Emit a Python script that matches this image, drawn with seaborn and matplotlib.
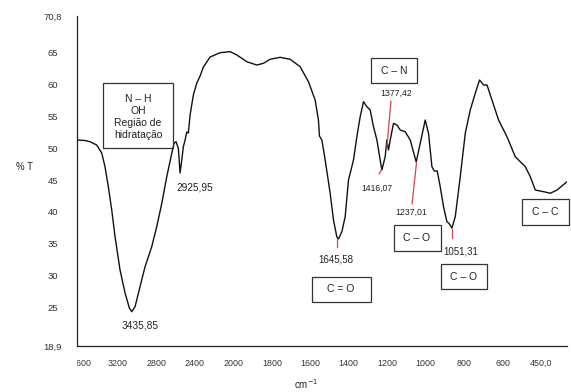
import numpy as np
import pandas as pd
import seaborn as sns
from matplotlib import pyplot as plt
from matplotlib.patches import Rectangle
from matplotlib.lines import Line2D
from matplotlib.transforms import Bbox, TransformedBbox, ScaledTranslation

# x position in axis tick units (0 = "3600" tick, 1 = "3200" tick, ...)
x_pos = [0.000, 0.208, 0.338, 0.512, 0.643, 0.728, 0.814, 0.903, 0.989, 1.119,
         1.249, 1.361, 1.423, 1.509, 1.639, 1.769, 1.943, 2.073, 2.204, 2.334,
         2.464, 2.523, 2.575, 2.635, 2.680, 2.724, 2.765, 2.810, 2.854, 2.895,
         2.940, 3.025, 3.114, 3.200, 3.286, 3.460, 3.720, 3.980, 4.155, 4.415,
         4.675, 4.847, 5.021, 5.281, 5.541, 5.801, 6.017, 6.191, 6.277, 6.303,
         6.366, 6.452, 6.582, 6.668, 6.756, 6.798, 6.886, 6.972, 7.058, 7.102,
         7.188, 7.276, 7.362, 7.448, 7.537, 7.622, 7.708, 7.797, 7.882, 7.926,
         8.012, 8.056, 8.098, 8.143, 8.229, 8.317, 8.403, 8.533, 8.663, 8.819,
         8.923, 9.053, 9.139, 9.227, 9.287, 9.365, 9.443, 9.529, 9.617, 9.664,
         9.748, 9.834, 9.964, 10.094, 10.224, 10.354, 10.466, 10.570, 10.659, 10.788,
         10.960, 11.178, 11.394, 11.654, 11.785, 11.915, 12.131, 12.305, 12.479, 12.739]

# transmittance (%T)
t_pct = [51.30, 51.22, 51.03, 50.51, 49.25, 47.10, 43.95, 40.29, 36.09, 30.85,
         27.24, 24.88, 24.29, 25.08, 28.23, 31.37, 34.52, 37.66, 41.34, 45.53,
         49.21, 50.78, 51.03, 49.99, 46.11, 48.15, 50.24, 51.30, 52.56, 52.40,
         55.23, 58.37, 60.26, 61.36, 62.78, 64.35, 65.03, 65.19, 64.67, 63.61,
         63.09, 63.36, 63.99, 64.30, 63.99, 62.83, 60.47, 57.59, 54.44, 51.93,
         51.30, 48.15, 42.92, 38.72, 36.04, 35.73, 36.88, 39.23, 45.01, 46.06,
         48.15, 51.82, 54.96, 57.32, 56.53, 56.02, 53.39, 51.30, 48.15, 46.58,
         48.67, 51.30, 49.72, 51.30, 53.92, 53.66, 52.87, 52.60, 51.30, 47.84,
         50.78, 54.44, 52.35, 47.10, 46.42, 46.42, 43.95, 40.81, 38.45, 38.24,
         37.46, 39.23, 45.53, 52.35, 56.02, 58.64, 60.73, 59.95, 59.95, 57.59,
         54.44, 51.82, 48.67, 47.10, 45.53, 43.43, 43.17, 42.92, 43.43, 44.74]

x_ticklabels = ["3600", "3200", "2800", "2400", "2000", "1800", "1600",
                "1400", "1200", "1000", "800", "600", "450,0"]
y_ticks = [18.9, 25, 30, 35, 40, 45, 50, 55, 60, 65, 70.8]
y_ticklabels = ["18,9", "25", "30", "35", "40", "45", "50", "55", "60", "65", "70,8"]

W, H = 571, 392

sns.set_theme(style="white")
plt.rcParams["font.family"] = ["Liberation Sans", "DejaVu Sans"]

fig = plt.figure(figsize=(W / 100, H / 100), dpi=100)
ax = fig.add_axes([77 / W, 1 - 346 / H, 490 / W, 330 / H])

df = pd.DataFrame({"pos": x_pos, "T": t_pct})
sns.lineplot(data=df, x="pos", y="T", sort=False, estimator=None,
             color="#111111", linewidth=1.0, ax=ax)

ax.set_xlim(0, 12.739)
ax.set_ylim(18.9, 70.8)
ax.set_xticks(list(range(len(x_ticklabels))) + [12.739])
ax.set_xticklabels(x_ticklabels + [""])
ax.set_yticks(y_ticks)
ax.set_yticklabels(y_ticklabels)
ax.set_xlabel("")
ax.set_ylabel("")
for s in ["top", "right"]:
    ax.spines[s].set_visible(False)
for s in ["left", "bottom"]:
    ax.spines[s].set_color("#222222")
    ax.spines[s].set_linewidth(0.9)
ax.tick_params(axis="x", direction="inout", length=3, width=0.8, color="#222222",
               pad=7.5, labelsize=6.4, labelcolor="#333333")
ax.tick_params(axis="y", direction="inout", length=3, width=0.8, color="#222222",
               pad=16, labelsize=6.8, labelcolor="#333333")
for lbl in ax.get_yticklabels():
    lbl.set_horizontalalignment("center")

# tick labels sit slightly right of their ticks; the first is cut by the y axis
labels = ax.get_xticklabels()
for i, lbl in enumerate(labels):
    dx = 5 if i == 0 else 2.5
    lbl.set_transform(lbl.get_transform() + ScaledTranslation(dx / 100, 0, fig.dpi_scale_trans))
labels[0].set_clip_box(TransformedBbox(Bbox([[77 / W, 0], [1, 1]]), fig.transFigure))
labels[0].set_clip_on(True)


def fx(px):
    return px / W


def fy(py):
    return 1 - py / H


def label(px, py, s, size=7.2, **kw):
    fig.text(fx(px), fy(py), s, ha="center", va="center", fontsize=size,
             color="#222222", **kw)


def box(x0, y0, x1, y1):
    fig.add_artist(Rectangle((fx(x0), fy(y1)), fx(x1) - fx(x0), fy(y0) - fy(y1),
                             transform=fig.transFigure, fill=False,
                             edgecolor="#333333", linewidth=0.9))


def red(x0, y0, x1, y1):
    fig.add_artist(Line2D([fx(x0), fx(x1)], [fy(y0), fy(y1)],
                          transform=fig.transFigure, color="#d9434a", linewidth=0.9))


# axis titles
label(24.5, 167, "% T", size=6.9)
label(306, 384, "cm$^{-1}$", size=7)

# N-H / OH box
box(102.7, 83.3, 172.7, 147.7)
label(138, 116.5, "N – H\nOH\nRegião de\nhidratação", size=7.5, linespacing=1.25)

label(195, 188, "2925,95", size=7.3)
label(140, 325, "3435,85", size=7.3)
label(336, 260, "1645,58", size=7.0)
red(336.7, 239, 336.7, 247)

box(311.7, 276.7, 371, 302.3)
label(341, 289.5, "C = O", size=7.5)

label(376.5, 188, "1416,07", size=6.2)
red(381.5, 170, 379, 174)

box(371, 58, 417.3, 83)
label(394, 70.5, "C – N", size=7.5)
label(396, 93, "1377,42", size=6.3)
red(391, 101, 387, 146)

label(411, 212, "1237,01", size=6.3)
red(416.5, 163, 412, 204)
box(394, 225, 440.7, 251)
label(417, 238, "C – O", size=7.5)

label(461, 252, "1051,31", size=7.0)
red(451.7, 229, 451.7, 238)
box(440.7, 264, 487.3, 289.3)
label(464, 276.7, "C – O", size=7.5)

box(522.3, 199.3, 569, 225)
label(545.7, 212, "C – C", size=7.5)

fig.savefig("out.png", dpi=100)
